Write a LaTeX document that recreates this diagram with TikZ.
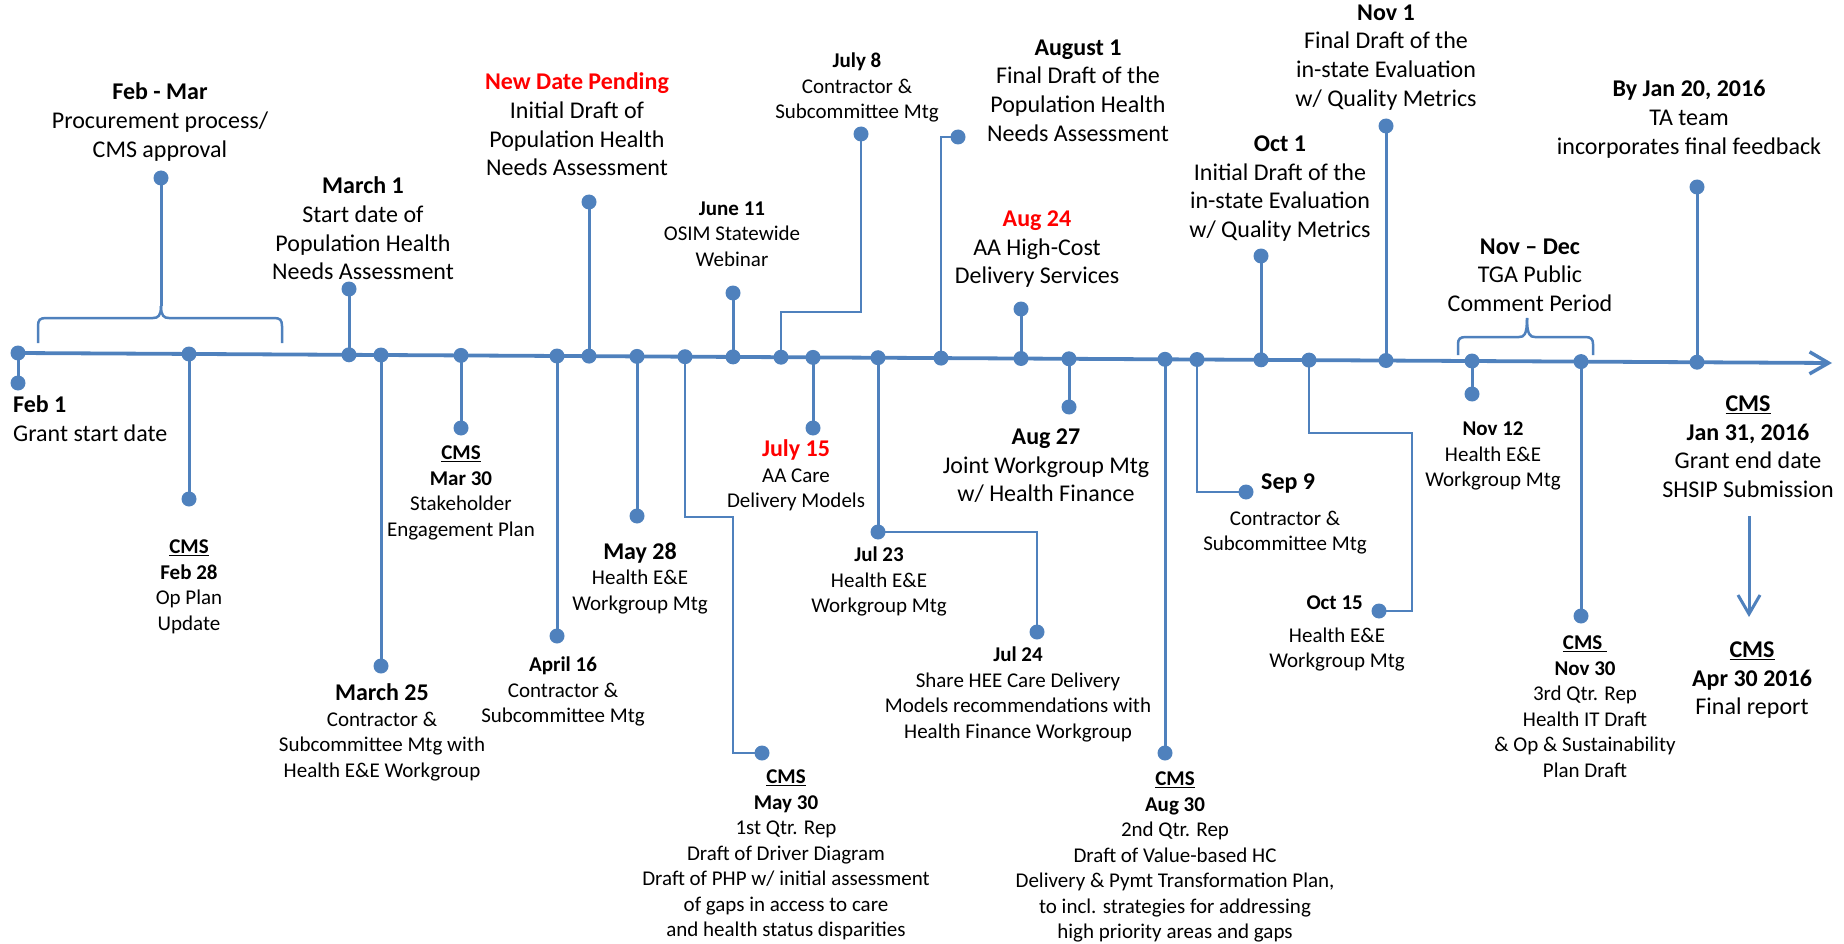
\documentclass[tikz,border=0pt]{standalone}
\usepackage{fontspec}
\setmainfont{Carlito}
\usetikzlibrary{arrows.meta}
\definecolor{tlblue}{RGB}{79,129,189}
\definecolor{tlred}{RGB}{255,0,0}
\newcommand{\hb}[1]{{\fontsize{24}{25.5}\selectfont\bfseries #1}}
\newcommand{\cms}{\textbf{\underline{CMS}}}
\begin{document}
\begin{tikzpicture}[x=1pt,y=-1pt,
  dot/.style={circle,fill=tlblue,inner sep=0pt,minimum size=15pt},
  stem/.style={draw=tlblue,line width=3pt},
  elbow/.style={draw=tlblue,line width=2.2pt},
  bracket/.style={draw=tlblue,line width=2.5pt},
  big/.style={align=center,inner sep=0pt,anchor=north,yshift=9.6pt,font=\fontsize{24}{28.8}\selectfont},
  small/.style={align=center,inner sep=0pt,anchor=north,yshift=8.4pt,font=\fontsize{21}{25.5}\selectfont},
]
\useasboundingbox (0,0) rectangle (1844,944);

% main timeline
\coordinate (start) at (18,353);
\coordinate (tip) at (1832,363);
\draw[tlblue,line width=3.8pt,-{Straight Barb[length=19pt,width=22pt,line width=3.5pt]}] (start) -- (tip);

% brackets
\coordinate (brL1) at (38,343);
\coordinate (brR1) at (282,343);
\coordinate (brT1) at (161,306);
\draw[bracket] (brL1) -- (38,326) .. controls (38,320) and (40,318) .. (46,318) -- (153,318) .. controls (158,318) and (161,316) .. (brT1);
\draw[bracket] (brR1) -- (282,326) .. controls (282,320) and (280,318) .. (274,318) -- (169,318) .. controls (164,318) and (161,316) .. (brT1);
\node[dot] (b0) at (161,178) {};
\draw[stem] (b0.center) -- (brT1);

\coordinate (brL2) at (1458,355);
\coordinate (brR2) at (1593,355);
\coordinate (brT2) at (1527,318);
\draw[bracket] (brL2) -- (1458,344) .. controls (1458,339) and (1460,337) .. (1466,337) -- (1519,337) .. controls (1524,337) and (1527,335) .. (brT2);
\draw[bracket] (brR2) -- (1593,344) .. controls (1593,339) and (1591,337) .. (1585,337) -- (1535,337) .. controls (1530,337) and (1527,335) .. (brT2);

% dots on the line and their ends
\node[dot] (a1) at (18,353) {};      \node[dot] (b1) at (18,383) {};
\node[dot] (a2) at (189,354) {};     \node[dot] (b2) at (189,499) {};
\node[dot] (a3) at (349,354.8) {};   \node[dot] (b3) at (349,289) {};
\node[dot] (a4) at (381,355) {};     \node[dot] (b4) at (381,666) {};
\node[dot] (a5) at (461,355.4) {};   \node[dot] (b5) at (461,428) {};
\node[dot] (a6) at (557,356) {};     \node[dot] (b6) at (557,636) {};
\node[dot] (a7) at (589,356.1) {};   \node[dot] (b7) at (589,202) {};
\node[dot] (a8) at (637,356.4) {};   \node[dot] (b8) at (637,516) {};
\node[dot] (a9) at (685,356.7) {};   \node[dot] (b9) at (762,753) {};
\node[dot] (a10) at (733,356.9) {};  \node[dot] (b10) at (733,293) {};
\node[dot] (a11) at (781,357.2) {};  \node[dot] (b11) at (861,134) {};
\node[dot] (a12) at (813,357.4) {};  \node[dot] (b12) at (813,428) {};
\node[dot] (a13) at (878,357.7) {};  \node[dot] (b13) at (878,532) {};
\node[dot] (b14) at (1037,632) {};
\node[dot] (a15) at (941,358.1) {};  \node[dot] (b15) at (958,137) {};
\node[dot] (a16) at (1021,358.5) {}; \node[dot] (b16) at (1021,309) {};
\node[dot] (a17) at (1069,358.8) {}; \node[dot] (b17) at (1069,407) {};
\node[dot] (a18) at (1165,359.3) {}; \node[dot] (b18) at (1165,753) {};
\node[dot] (a19) at (1197,359.5) {}; \node[dot] (b19) at (1246,492) {};
\node[dot] (a20) at (1261,359.8) {}; \node[dot] (b20) at (1261,256) {};
\node[dot] (a21) at (1309,360.1) {}; \node[dot] (b21) at (1379,611) {};
\node[dot] (a22) at (1386,360.5) {}; \node[dot] (b22) at (1386,126) {};
\node[dot] (a23) at (1472,361) {};   \node[dot] (b23) at (1472,394) {};
\node[dot] (a24) at (1581,361.6) {}; \node[dot] (b24) at (1581,616) {};
\node[dot] (a25) at (1697,362.2) {}; \node[dot] (b25) at (1697,187) {};

% straight stems
\foreach \i in {1,2,3,4,5,6,7,8,10,12,13,16,17,18,20,22,23,24,25}
  \draw[stem] (a\i.center) -- (b\i.center);

% elbow connectors
\coordinate (e9a) at (733,517);
\draw[elbow] (a9.center) |- (e9a) |- (b9.center);
\draw[elbow] (a11.center) |- (861,312) -- (b11.center);
\draw[elbow] (b13.center) -| (b14.center);
\draw[elbow] (a15.center) |- (b15.center);
\draw[elbow] (a19.center) |- (b19.center);
\coordinate (e21a) at (1412,433);
\draw[elbow] (a21.center) |- (e21a) |- (b21.center);

% down arrow
\coordinate (dn1) at (1749,516);
\coordinate (dn2) at (1749,617);
\draw[tlblue,line width=3pt,-{Straight Barb[length=19pt,width=22pt,line width=3pt]}] (dn1) -- (dn2);

% labels
\node[big] (tFebMar) at (160,92) {\textbf{Feb - Mar}\\Procurement process/\\CMS approval};
\node[big,align=left,anchor=north west] (tFeb1) at (13,405) {\textbf{Feb 1}\\Grant start date};
\node[small] (tFeb28) at (189,548) {\cms\\\textbf{Feb 28}\\Op Plan\\Update};
\node[big] (tMar1) at (363,186) {\textbf{March 1}\\Start date of\\Population Health\\Needs Assessment};
\node[small] (tMar25) at (382,692) {\hb{March 25}\\Contractor \&\\Subcommittee Mtg with\\Health E\&E Workgroup};
\node[small] (tMar30) at (461,454) {\cms\\\textbf{Mar 30}\\Stakeholder\\Engagement Plan};
\node[small] (tApr16) at (563,665) {\textbf{April 16}\\Contractor \&\\Subcommittee Mtg};
\node[big] (tNew) at (577,82) {\textcolor{tlred}{\textbf{New Date Pending}}\\Initial Draft of\\Population Health\\Needs Assessment};
\node[small] (tMay28) at (640,551) {\hb{May 28}\\Health E\&E\\Workgroup Mtg};
\node[small] (tMay30) at (786,778) {\cms\\\textbf{May 30}\\1st Qtr. Rep\\Draft of Driver Diagram\\Draft of PHP w/ initial assessment\\of gaps in access to care\\and health status disparities};
\node[small] (tJun11) at (732,210) {\textbf{June 11}\\OSIM Statewide\\Webinar};
\node[small] (tJul8) at (857,61) {\textbf{July 8}\\Contractor \&\\Subcommittee Mtg};
\node[small] (tJul15) at (796,448) {\textcolor{tlred}{\hb{July 15}}\\AA Care\\Delivery Models};
\node[small] (tJul23) at (879,555) {\textbf{Jul 23}\\Health E\&E\\Workgroup Mtg};
\node[small] (tJul24) at (1018,655) {\textbf{Jul 24}\\Share HEE Care Delivery\\Models recommendations with\\Health Finance Workgroup};
\node[big] (tAug1) at (1078,49) {\textbf{August 1}\\Final Draft of the\\Population Health\\Needs Assessment};
\node[big] (tAug24) at (1037,220) {\textcolor{tlred}{\textbf{Aug 24}}\\AA High-Cost\\Delivery Services};
\node[big] (tAug27) at (1046,438) {\textbf{Aug 27}\\Joint Workgroup Mtg\\w/ Health Finance};
\node[small] (tAug30) at (1175,780) {\cms\\\textbf{Aug 30}\\2nd Qtr. Rep\\Draft of Value-based HC\\Delivery \& Pymt Transformation Plan,\\to incl. strategies for addressing\\high priority areas and gaps};
\node[small,anchor=west,yshift=0pt] (tSep9h) at (1261,492) {\hb{Sep 9}};
\node[small] (tSep9) at (1285,519) {Contractor \&\\Subcommittee Mtg};
\node[big] (tOct1) at (1280,145) {\textbf{Oct 1}\\Initial Draft of the\\in-state Evaluation\\w/ Quality Metrics};
\node[small,anchor=east,yshift=0pt] (tOct15h) at (1363,611) {\textbf{Oct 15}};
\node[small] (tOct15) at (1337,636) {Health E\&E\\Workgroup Mtg};
\node[big] (tNov1) at (1386,14) {\textbf{Nov 1}\\Final Draft of the\\in-state Evaluation\\w/ Quality Metrics};
\node[small] (tNov12) at (1493,430) {\textbf{Nov 12}\\Health E\&E\\Workgroup Mtg};
\node[big] (tNovDec) at (1530,248) {\textbf{Nov -- Dec}\\TGA Public\\Comment Period};
\node[small] (tNov30) at (1585,644) {\textbf{\underline{CMS\ }}\\\textbf{Nov 30}\\3rd Qtr. Rep\\Health IT Draft\\\& Op \& Sustainability\\Plan Draft};
\node[big] (tJan20) at (1689,90) {\textbf{By Jan 20, 2016}\\TA team\\incorporates final feedback};
\node[big] (tJan31) at (1748,405) {\cms\\\textbf{Jan 31, 2016}\\Grant end date\\SHSIP Submission};
\node[big] (tApr30) at (1752,651) {\cms\\\textbf{Apr 30 2016}\\Final report};
\end{tikzpicture}
\end{document}
